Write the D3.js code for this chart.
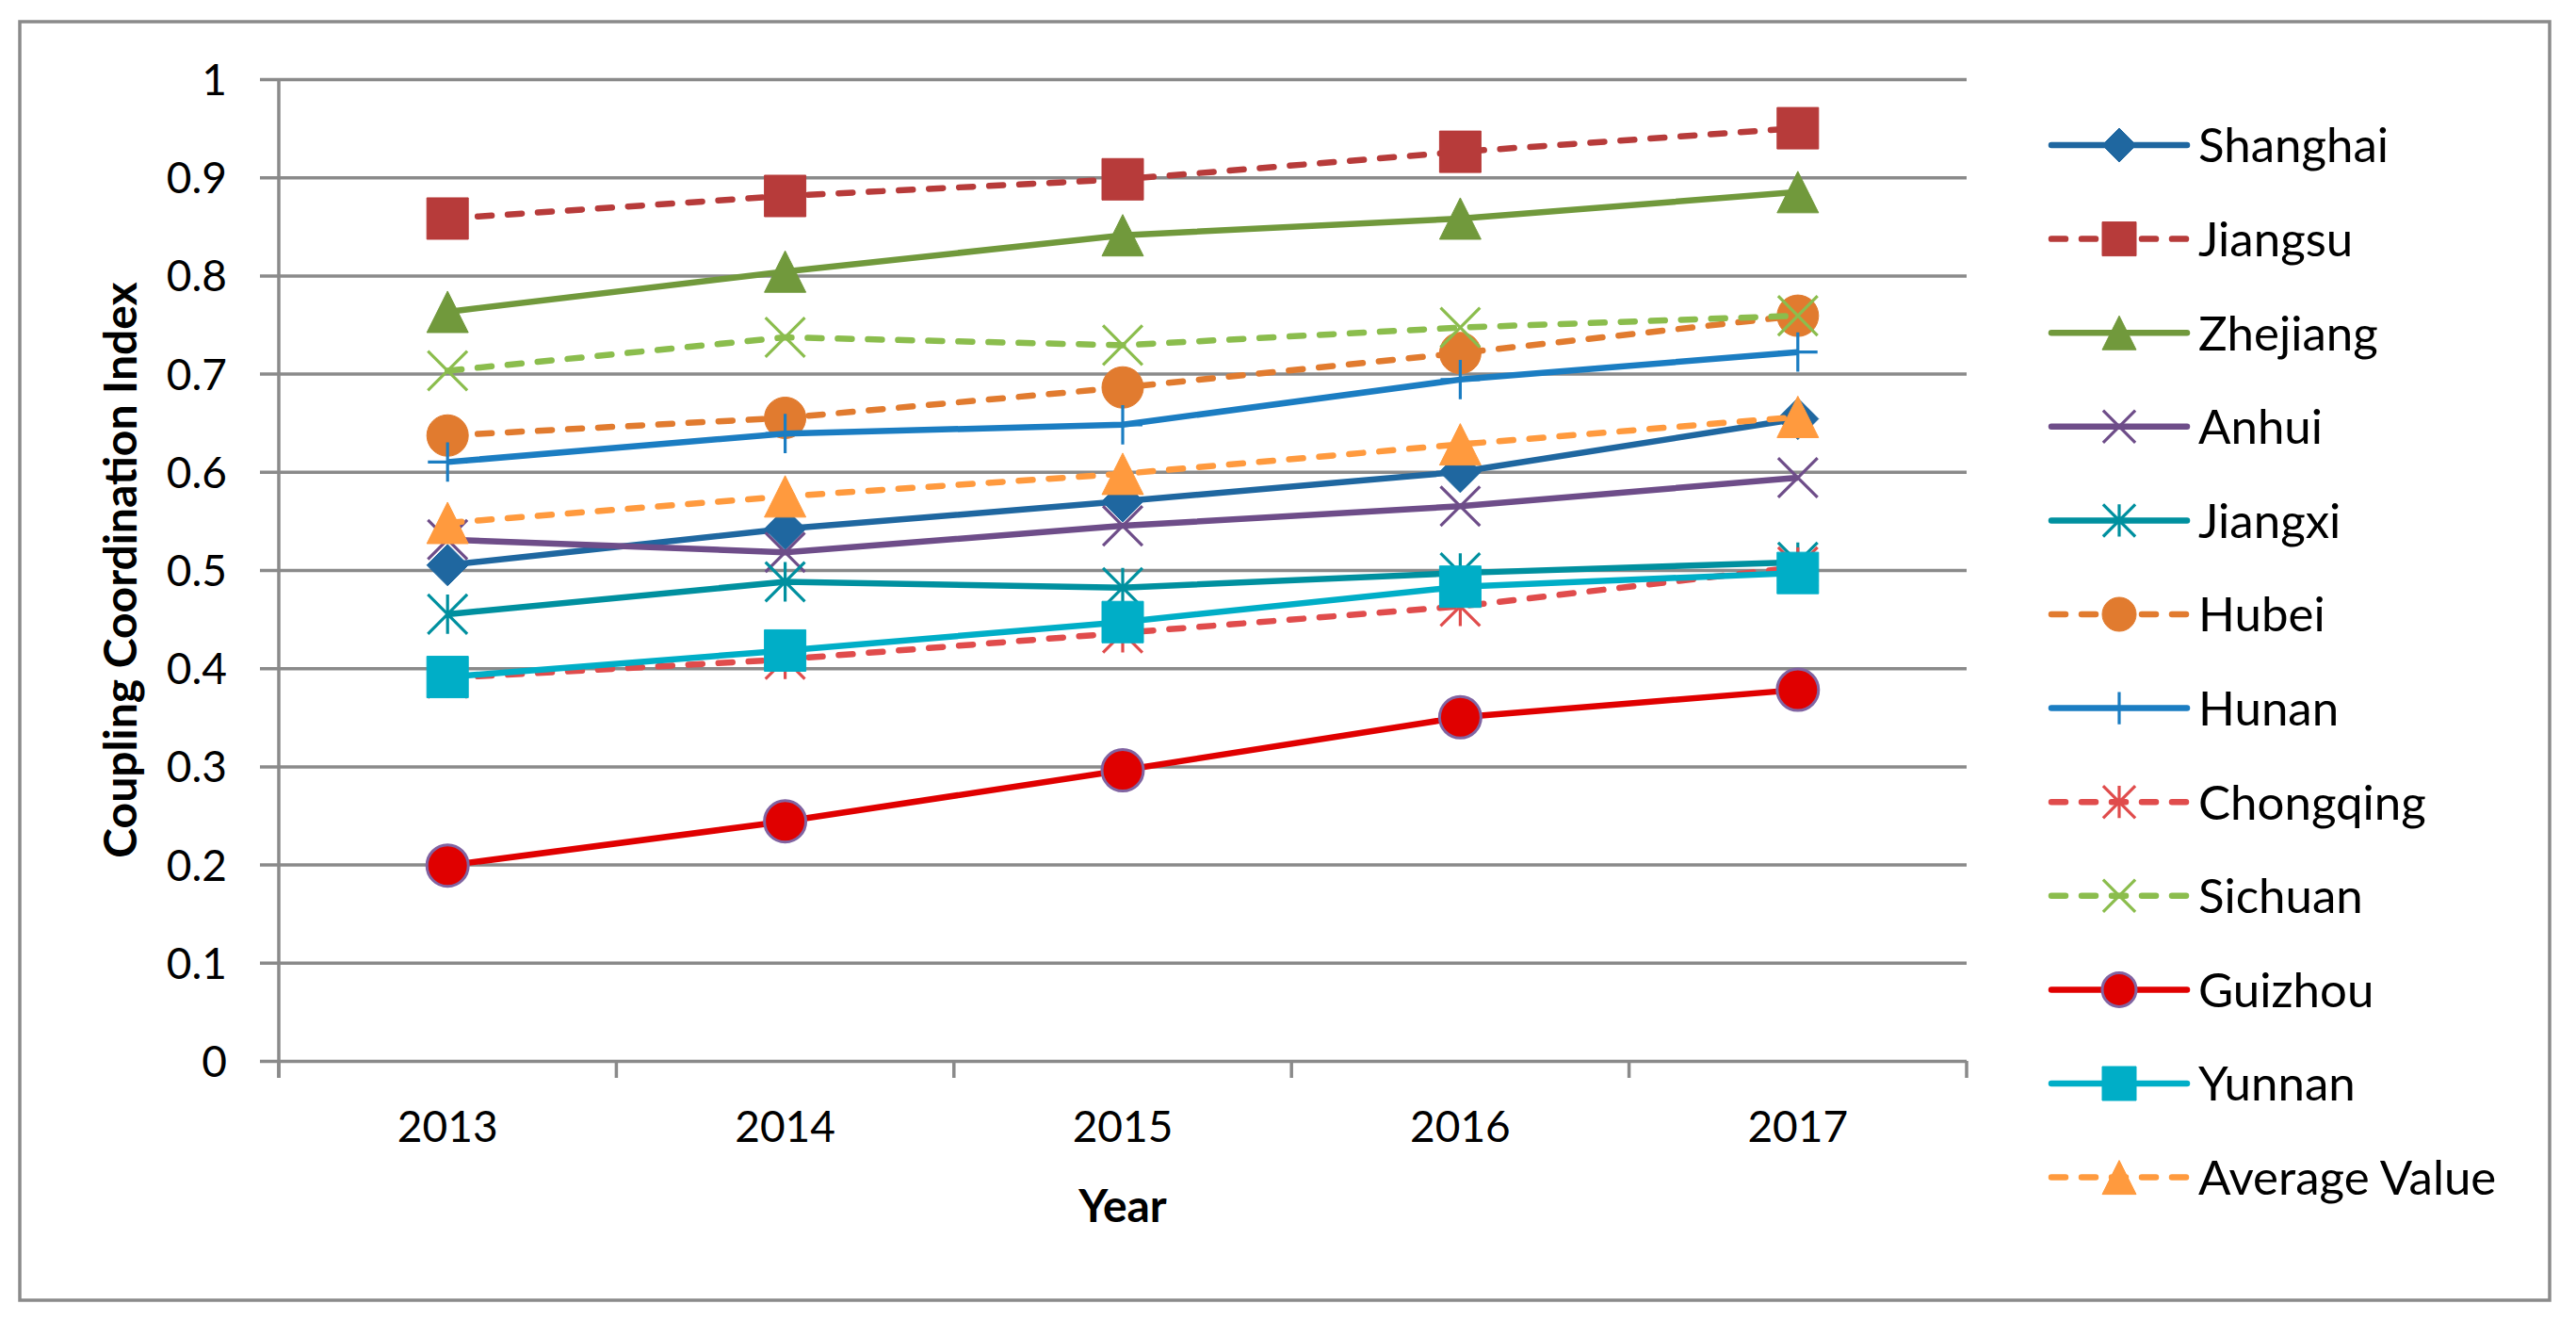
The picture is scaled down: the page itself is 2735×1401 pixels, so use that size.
<!DOCTYPE html>
<html>
<head>
<meta charset="utf-8">
<script src="https://cdn.jsdelivr.net/npm/d3@7"></script>
<style>
    body { margin: 0; background: #fff; }
    svg text { font-family: "Lato", "Open Sans", sans-serif; fill: #000; }
</style>
</head>
<body>
<svg id="chart" width="2735" height="1401"></svg>
<script>
const years = ["2013", "2014", "2015", "2016", "2017"];
const yTicks = [0, 0.1, 0.2, 0.3, 0.4, 0.5, 0.6, 0.7, 0.8, 0.9, 1];

const shanghai  = [0.505, 0.542, 0.570, 0.600, 0.654];
const jiangsu   = [0.858, 0.881, 0.898, 0.926, 0.950];
const zhejiang  = [0.763, 0.804, 0.841, 0.858, 0.885];
const anhui     = [0.531, 0.518, 0.545, 0.565, 0.594];
const jiangxi   = [0.455, 0.488, 0.482, 0.497, 0.508];
const hubei     = [0.637, 0.655, 0.686, 0.721, 0.759];
const hunan     = [0.610, 0.639, 0.648, 0.694, 0.722];
const chongqing = [0.390, 0.409, 0.436, 0.463, 0.503];
const sichuan   = [0.703, 0.737, 0.729, 0.747, 0.759];
const guizhou   = [0.199, 0.244, 0.296, 0.350, 0.378];
const yunnan    = [0.391, 0.418, 0.447, 0.483, 0.497];
const average   = [0.548, 0.575, 0.598, 0.628, 0.656];

const series = [
    { name: "Shanghai", values: shanghai, color: "#1F67A0", dash: false, marker: "diamond" },
    { name: "Jiangsu", values: jiangsu, color: "#B73B3A", dash: true, marker: "square" },
    { name: "Zhejiang", values: zhejiang, color: "#71993C", dash: false, marker: "triangle" },
    { name: "Anhui", values: anhui, color: "#6E4D89", dash: false, marker: "x" },
    { name: "Jiangxi", values: jiangxi, color: "#00909F", dash: false, marker: "star" },
    { name: "Hubei", values: hubei, color: "#E17B2F", dash: true, marker: "circle" },
    { name: "Hunan", values: hunan, color: "#1B7DC2", dash: false, marker: "plus" },
    { name: "Chongqing", values: chongqing, color: "#E04C4C", dash: true, marker: "star" },
    { name: "Sichuan", values: sichuan, color: "#8BBD4D", dash: true, marker: "x" },
    { name: "Guizhou", values: guizhou, color: "#E00000", dash: false, marker: "circle", outline: "#8064A2" },
    { name: "Yunnan", values: yunnan, color: "#00AEC7", dash: false, marker: "square" },
    { name: "Average Value", values: average, color: "#FF9A3E", dash: true, marker: "triangle" }
];

const svg = d3.select("#chart");
const gridColor = "#8A8A8A";

const plot = { left: 296, right: 2088, top: 84, bottom: 1126 };

const x = d3.scaleBand().domain(years).range([plot.left, plot.right]);
const y = d3.scaleLinear().domain([0, 1]).range([plot.bottom, plot.top]);

// outer frame
svg.append("rect")
    .attr("x", 21).attr("y", 23)
    .attr("width", 2686).attr("height", 1357)
    .attr("fill", "none")
    .attr("stroke", gridColor)
    .attr("stroke-width", 3.5);

// gridlines + y axis
const yAxis = d3.axisLeft(y)
    .tickValues(yTicks)
    .tickSize(-(plot.right - plot.left))
    .tickSizeOuter(0)
    .tickPadding(0)
    .tickFormat(d => d3.format("")(+d.toFixed(1)));

const gy = svg.append("g")
    .attr("transform", `translate(${plot.left},0)`)
    .call(yAxis);
gy.select(".domain").remove();
gy.selectAll(".tick line")
    .attr("x1", -20)
    .attr("stroke", gridColor)
    .attr("stroke-width", 3.5);
gy.selectAll(".tick text")
    .attr("x", -55)
    .attr("dy", "0.36em")
    .style("font-size", "46px");

svg.append("line")
    .attr("x1", plot.left).attr("x2", plot.left)
    .attr("y1", plot.top).attr("y2", plot.bottom + 18)
    .attr("stroke", gridColor)
    .attr("stroke-width", 3.5);

// x axis
const xAxis = d3.axisBottom(x).tickSize(0).tickPadding(0);
const gx = svg.append("g")
    .attr("transform", `translate(0,${plot.bottom})`)
    .call(xAxis);
gx.select(".domain").remove();
gx.selectAll(".tick text")
    .attr("y", 86)
    .attr("dy", 0)
    .style("font-size", "46px");

const boundaries = years.map(d => x(d)).concat([plot.right]);
svg.append("g").selectAll("line")
    .data(boundaries)
    .join("line")
    .attr("x1", d => d).attr("x2", d => d)
    .attr("y1", plot.bottom).attr("y2", plot.bottom + 18)
    .attr("stroke", gridColor)
    .attr("stroke-width", 3.5);

// axis titles
svg.append("text")
    .attr("x", (plot.left + plot.right) / 2)
    .attr("y", 1297)
    .attr("text-anchor", "middle")
    .style("font-size", "48px")
    .style("font-weight", "bold")
    .text("Year");

svg.append("text")
    .attr("transform", `translate(145,${(plot.top + plot.bottom) / 2}) rotate(-90)`)
    .attr("text-anchor", "middle")
    .style("font-size", "48px")
    .style("font-weight", "bold")
    .text("Coupling Coordination Index");

function markerPath(type, s) {
    switch (type) {
        case "diamond": return `M0,${-s}L${s},0L0,${s}L${-s},0Z`;
        case "square": return `M${-s},${-s}H${s}V${s}H${-s}Z`;
        case "triangle": return `M0,${-s}L${s},${s}L${-s},${s}Z`;
        case "x": return `M${-s},${-s}L${s},${s}M${s},${-s}L${-s},${s}`;
        case "star": return `M${-s},${-s}L${s},${s}M${s},${-s}L${-s},${s}M0,${-s}L0,${s}`;
        case "plus": return `M${-s},0H${s}M0,${-s}V${s}`;
    }
    return "";
}

function drawMarker(sel, d, s) {
    const open = d.marker === "x" || d.marker === "star" || d.marker === "plus";
    if (d.marker === "circle") {
        sel.append("circle")
            .attr("r", s)
            .attr("fill", d.color)
            .attr("stroke", d.outline || d.color)
            .attr("stroke-width", d.outline ? 3 : 1);
    } else {
        sel.append("path")
            .attr("d", markerPath(d.marker, open ? s * 0.95 : s))
            .attr("fill", open ? "none" : d.color)
            .attr("stroke", d.color)
            .attr("stroke-width", open ? 3.2 : 1)
            .attr("stroke-linejoin", "round");
    }
}

const line = d3.line()
    .x((v, i) => x(years[i]) + x.bandwidth() / 2)
    .y(v => y(v));

const seriesG = svg.append("g");
series.forEach(d => {
    const g = seriesG.append("g");
    g.append("path")
        .attr("d", line(d.values))
        .attr("fill", "none")
        .attr("stroke", d.color)
        .attr("stroke-width", 6.5)
        .attr("stroke-linejoin", "round")
        .attr("stroke-linecap", d.dash ? "round" : "butt")
        .attr("stroke-dasharray", d.dash ? "15,17" : null);

    d.values.forEach((v, i) => {
        const m = g.append("g")
            .attr("transform", `translate(${x(years[i]) + x.bandwidth() / 2},${y(v)})`);
        drawMarker(m, d, 22);
    });
});

// legend
const legend = svg.append("g");
series.forEach((d, i) => {
    const row = legend.append("g")
        .attr("transform", `translate(0,${154 + i * 99.6})`);
    row.append("line")
        .attr("x1", 2178).attr("x2", 2322)
        .attr("stroke", d.color)
        .attr("stroke-width", 6.5)
        .attr("stroke-linecap", "round")
        .attr("stroke-dasharray", d.dash ? "15,17" : null);
    const m = row.append("g").attr("transform", "translate(2250,0)");
    drawMarker(m, d, 18);
    row.append("text")
        .attr("x", 2334)
        .attr("dy", "0.36em")
        .style("font-size", "51px")
        .text(d.name);
});
</script>
</body>
</html>
